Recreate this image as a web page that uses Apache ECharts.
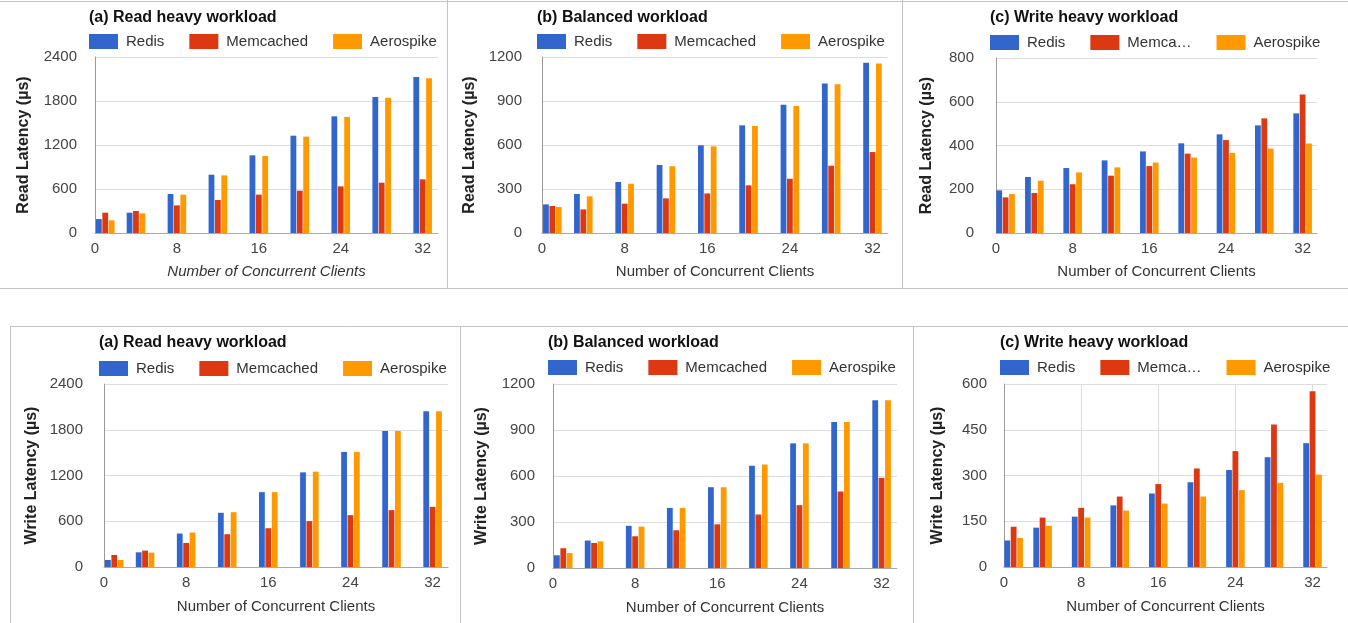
<!DOCTYPE html>
<html>
<head>
<meta charset="utf-8">
<title>Latency</title>
<script src="https://cdn.jsdelivr.net/npm/echarts@6/dist/echarts.min.js"></script>
<style>
  html, body { margin: 0; padding: 0; background: #fff; }
  #chart { width: 1348px; height: 623px; }
</style>
</head>
<body>
<div id="chart"></div>
<script>
const clients = [1, 4, 8, 12, 16, 20, 24, 28, 32]
const xTicks = [0, 8, 16, 24, 32]
const seriesNames = ['Redis', 'Memcached', 'Aerospike']

// read latency (µs)
const rhReadRedis = [190, 277, 532, 795, 1059, 1327, 1591, 1855, 2127]
const rhReadMem = [277, 300, 377, 450, 523, 577, 636, 686, 732]
const rhReadAero = [173, 268, 523, 786, 1050, 1314, 1582, 1845, 2109]

const balReadRedis = [195, 266, 348, 464, 598, 734, 875, 1020, 1161]
const balReadMem = [184, 161, 200, 236, 270, 325, 370, 459, 552]
const balReadAero = [177, 250, 336, 455, 591, 730, 866, 1014, 1155]

const whReadRedis = [195, 256, 297, 332, 373, 410, 451, 492, 547]
const whReadMem = [163, 183, 223, 262, 306, 363, 425, 524, 633]
const whReadAero = [178, 239, 277, 300, 322, 345, 366, 386, 409]

// write latency (µs)
const rhWriteRedis = [92, 193, 439, 711, 982, 1241, 1509, 1785, 2044]
const rhWriteMem = [158, 215, 316, 430, 509, 602, 680, 746, 789]
const rhWriteAero = [92, 189, 452, 719, 982, 1250, 1509, 1785, 2044]

const balWriteRedis = [83, 179, 275, 392, 527, 667, 813, 952, 1094]
const balWriteMem = [129, 163, 207, 246, 285, 349, 410, 499, 588]
const balWriteAero = [98, 174, 270, 392, 527, 675, 813, 952, 1094]

const whWriteRedis = [87, 129, 165, 202, 241, 278, 318, 360, 406]
const whWriteMem = [132, 162, 194, 231, 272, 323, 380, 467, 576]
const whWriteAero = [95, 135, 162, 185, 208, 231, 252, 276, 303]

const yMaxes = [2400, 1200, 800, 2400, 1200, 600]
const yIntervals = [600, 300, 200, 600, 300, 150]

const titles = [
  '(a) Read heavy workload', '(b) Balanced workload', '(c) Write heavy workload',
  '(a) Read heavy workload', '(b) Balanced workload', '(c) Write heavy workload'
]
const yNames = [
  'Read Latency (µs)', 'Read Latency (µs)', 'Read Latency (µs)',
  'Write Latency (µs)', 'Write Latency (µs)', 'Write Latency (µs)'
]
const panelData = [
  [rhReadRedis, rhReadMem, rhReadAero],
  [balReadRedis, balReadMem, balReadAero],
  [whReadRedis, whReadMem, whReadAero],
  [rhWriteRedis, rhWriteMem, rhWriteAero],
  [balWriteRedis, balWriteMem, balWriteAero],
  [whWriteRedis, whWriteMem, whWriteAero]
]

const colors = ['#3366cc', '#dc3912', '#ff9900']
const font = "'Liberation Sans', Arial, sans-serif"

// panel layout: grid box, title / legend corner, y name gap
const layout = [
  { l: 95, r: 438, t: 57, b: 233, tx: 89, ty: 10, ly: 34, gap: 63, lm: 18 },
  { l: 542, r: 888, t: 57, b: 233, tx: 537, ty: 10, ly: 34, gap: 64, lm: 20 },
  { l: 996, r: 1317, t: 58, b: 233, tx: 990, ty: 10, ly: 35, gap: 61, lm: 22 },
  { l: 104, r: 448, t: 384, b: 567, tx: 99, ty: 335, ly: 361, gap: 64, lm: 21 },
  { l: 553, r: 897, t: 384, b: 568, tx: 548, ty: 335, ly: 360, gap: 63, lm: 18 },
  { l: 1004, r: 1327, t: 384, b: 567, tx: 1000, ty: 335, ly: 360, gap: 58, lm: 17 }
]

const chart = echarts.init(document.getElementById('chart'))

const grid = []
const xAxis = []
const yAxis = []
const title = []
const legend = []
const series = []

layout.forEach((p, i) => {
  grid.push({ left: p.l, top: p.t, width: p.r - p.l, height: p.b - p.t })
  title.push({
    text: titles[i],
    left: p.tx,
    top: p.ty,
    padding: 0,
    textStyle: { fontFamily: font, fontSize: 16, fontWeight: 'bold', color: '#111' }
  })
  const short = i === 2 || i === 5
  legend.push({
    data: seriesNames,
    left: p.tx,
    top: p.ly,
    padding: 0,
    itemWidth: 29,
    itemHeight: 15,
    itemGap: 25,
    icon: 'rect',
    selectedMode: false,
    formatter: name => (short && name === 'Memcached') ? 'Memca…' : name,
    textStyle: { fontFamily: font, fontSize: 15, color: '#333', padding: [0, 0, 0, 3] }
  })
  xAxis.push({
    gridIndex: i,
    type: 'value',
    min: 0,
    max: 33.5,
    interval: 8,
    name: 'Number of Concurrent Clients',
    nameLocation: 'middle',
    nameGap: i < 3 ? 31 : 32,
    nameTextStyle: {
      fontFamily: font, fontSize: 15, color: '#333',
      fontStyle: i === 0 ? 'italic' : 'normal'
    },
    axisLine: { show: true, lineStyle: { color: '#aaa' } },
    axisTick: { show: false },
    axisLabel: {
      fontFamily: font, fontSize: 15, color: '#444', margin: 8,
      showMaxLabel: false,
      formatter: v => (xTicks.indexOf(v) >= 0 ? String(v) : '')
    },
    splitLine: { show: i === 5, showMinLine: false, showMaxLine: false, lineStyle: { color: '#ddd' } }
  })
  yAxis.push({
    gridIndex: i,
    type: 'value',
    min: 0,
    max: yMaxes[i],
    interval: yIntervals[i],
    name: yNames[i],
    nameLocation: 'middle',
    nameRotate: 90,
    nameGap: p.gap,
    nameTextStyle: { fontFamily: font, fontSize: 16, fontWeight: 'bold', color: '#222' },
    axisLine: { show: true, lineStyle: { color: '#999' } },
    axisTick: { show: false },
    axisLabel: {
      fontFamily: font, fontSize: 15, color: '#444', margin: p.lm,
      formatter: v => String(v)
    },
    splitLine: { lineStyle: { color: '#ddd' } }
  })
  panelData[i].forEach((vals, k) => {
    series.push({
      type: 'bar',
      name: seriesNames[k],
      xAxisIndex: i,
      yAxisIndex: i,
      barWidth: 5.8,
      barGap: '10%',
      itemStyle: { color: colors[k] },
      data: vals.map((v, j) => [clients[j], v])
    })
  })
})

const border = '#c4c4c4'
const line = (x1, y1, x2, y2) => ({
  type: 'line',
  silent: true,
  shape: { x1: x1, y1: y1, x2: x2, y2: y2 },
  style: { stroke: border, lineWidth: 1 }
})

const option = {
  animation: false,
  color: colors,
  grid: grid,
  xAxis: xAxis,
  yAxis: yAxis,
  title: title,
  legend: legend,
  series: series,
  graphic: [
    line(0, 1.5, 1348, 1.5),
    line(447.5, 0, 447.5, 288),
    line(902.5, 0, 902.5, 288),
    line(0, 288.5, 1348, 288.5),
    line(10, 326.5, 1348, 326.5),
    line(10.5, 326, 10.5, 623),
    line(460.5, 326, 460.5, 623),
    line(913.5, 326, 913.5, 623)
  ]
}

chart.setOption(option)
</script>
</body>
</html>
